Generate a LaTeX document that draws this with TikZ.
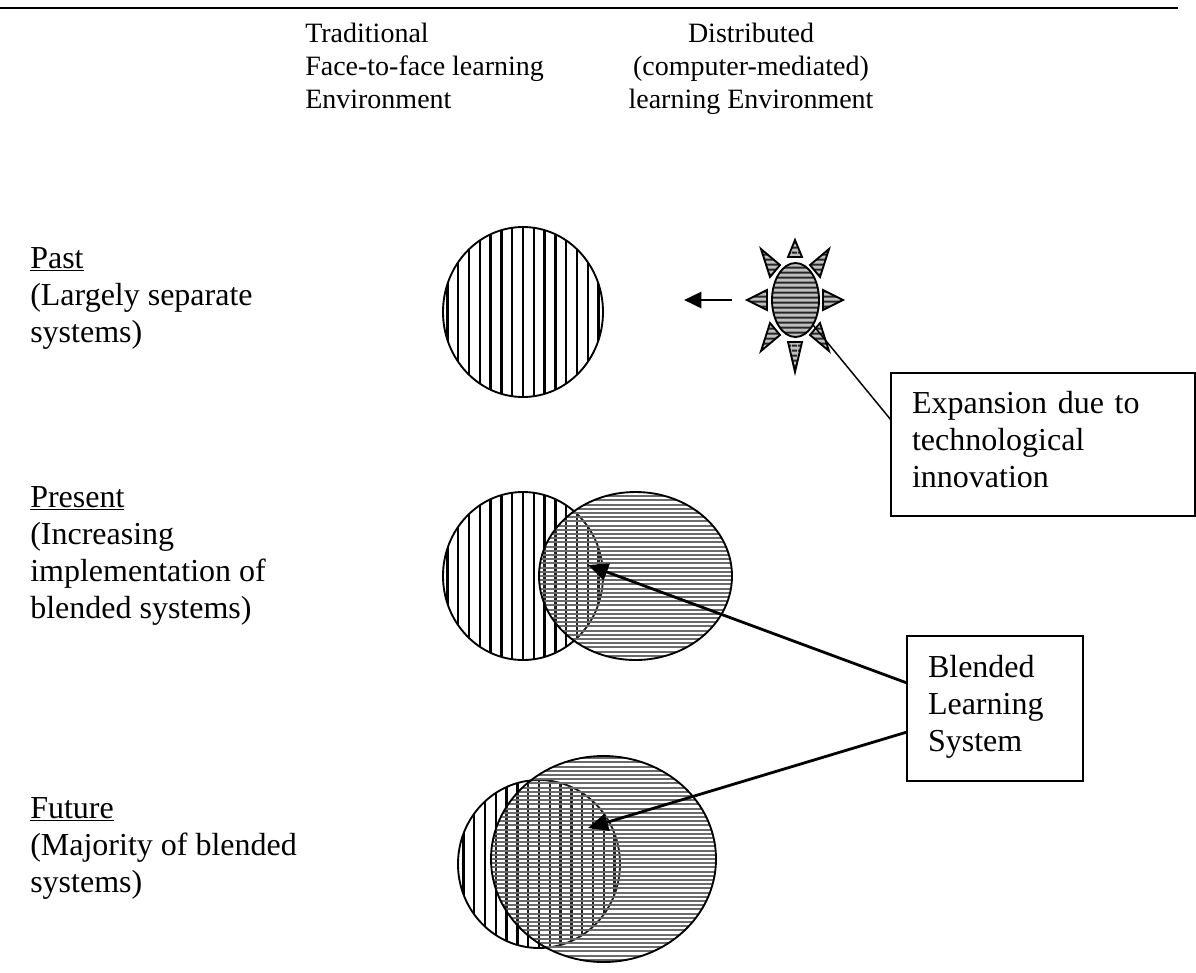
\documentclass[tikz,border=0pt]{standalone}
\usepackage{fontspec}
\setmainfont{Liberation Serif}
\usetikzlibrary{arrows.meta,patterns.meta,calc}
\newcommand\mylines[1]{\begin{tabular}[t]{@{}l@{}}#1\end{tabular}}
\newcommand\mylinesc[1]{\begin{tabular}[t]{@{}c@{}}#1\end{tabular}}
\begin{document}
\begin{tikzpicture}[x=0.75pt,y=-0.75pt,
  body/.style={font=\fontsize{24}{27.75}\selectfont, inner sep=0pt, anchor=base west},
  head/.style={font=\fontsize{21}{25.1}\selectfont, inner sep=0pt},
  labelbox/.style={draw, line width=1.4pt, outer sep=0pt, inner ysep=0pt, inner xsep=15.75pt,
    anchor=north west, align=left, font=\fontsize{24}{27.75}\selectfont},
  vline/.style={line width=1.7pt, black},
  hline/.style={line width=1.5pt, black!58},
  sunstripes/.style={preaction={fill=black!25}, pattern={Lines[angle=0,distance=4pt,line width=1.6pt]}, pattern color=black!85},
  outline/.style={draw, line width=1.4pt},
  sunpart/.style={sunstripes, draw, line width=1.4pt, line join=miter},
  arr/.style={line width=2.1pt, -{Triangle[length=15pt,width=13pt]}},
  thinline/.style={line width=1.1pt}
]
\useasboundingbox (0,0) rectangle (1196,972);

% top rule
\draw[line width=2pt] (0,8) -- (1178,8);

% column headers
\node[head, anchor=base west] (trad) at (305,42) {\mylines{Traditional\\Face-to-face learning\\Environment}};
\node[head, anchor=base] (dist) at (751,42) {\mylinesc{Distributed\\(computer-mediated)\\learning Environment}};

% row labels
\node[body] (past) at (30,268) {\mylines{\underline{Past}\\(Largely separate\\systems)}};
\node[body] (present) at (30,507) {\mylines{\underline{Present}\\(Increasing\\implementation of\\blended systems)}};
\node[body] (future) at (30,818) {\mylines{\underline{Future}\\(Majority of blended\\systems)}};

% ---- Past: traditional circle
\begin{scope}
  \clip (523,312) ellipse [x radius=80, y radius=85];
  \foreach \i in {-8,...,8} \draw[vline] (523+\i*10.8,220) -- (523+\i*10.8,400);
\end{scope}
\draw[outline] (523,312) ellipse [x radius=80, y radius=85];

% ---- Past: distributed "sun"
\path[sunpart] (795.5,300) ellipse [x radius=23.5, y radius=37];
\path[sunpart] (795,240) -- (802,257) -- (788,257) -- cycle;
\path[sunpart] (795,372) -- (802,342) -- (788,342) -- cycle;
\path[sunpart] (747,300) -- (767,290) -- (767,310) -- cycle;
\path[sunpart] (843,300) -- (823,290) -- (823,310) -- cycle;
\path[sunpart] (761,249) -- (780,265) -- (770,277) -- cycle;
\path[sunpart] (829,249) -- (810,265) -- (820,277) -- cycle;
\path[sunpart] (761,351) -- (780,335) -- (770,323) -- cycle;
\path[sunpart] (829,351) -- (810,335) -- (820,323) -- cycle;

\coordinate (expStart) at (732,300);
\coordinate (expEnd) at (684,300);
\draw[line width=2pt, -{Triangle[length=13pt,width=12pt]}] (expStart) -- (expEnd);

% ---- Present
\begin{scope}
  \clip (523,576) ellipse [x radius=80, y radius=84];
  \foreach \i in {-8,...,8} \draw[vline] (523+\i*10.8,488) -- (523+\i*10.8,664);
\end{scope}
\draw[outline] (523,576) ellipse [x radius=80, y radius=84];
\fill[white, opacity=0.12] (635.5,576) ellipse [x radius=96.5, y radius=84];
\begin{scope}
  \clip (635.5,576) ellipse [x radius=96.5, y radius=84];
  \foreach \j in {-21,...,21} \draw[hline] (535,576+\j*4.2) -- (736,576+\j*4.2);
\end{scope}
\draw[outline] (635.5,576) ellipse [x radius=96.5, y radius=84];

% ---- Future
\begin{scope}
  \clip (539,864) ellipse [x radius=81, y radius=84];
  \foreach \i in {-8,...,8} \draw[vline] (539+\i*10.8,776) -- (539+\i*10.8,952);
\end{scope}
\draw[outline] (539,864) ellipse [x radius=81, y radius=84];
\fill[white, opacity=0.12] (603.5,859) ellipse [x radius=112.5, y radius=103];
\begin{scope}
  \clip (603.5,859) ellipse [x radius=112.5, y radius=103];
  \foreach \j in {-25,...,25} \draw[hline] (488,859+\j*4.2) -- (720,859+\j*4.2);
\end{scope}
\draw[outline] (603.5,859) ellipse [x radius=112.5, y radius=103];

% ---- callout boxes
\node[labelbox, text width=196.5pt, text height=30pt, text depth=77.25pt] (exp) at (891,373)
  {Expansion due to\\technological\\innovation};
\node[labelbox, text width=100.5pt, text height=30.75pt, text depth=78pt] (blend) at (907,636)
  {Blended\\Learning\\System};

% ---- connectors
\coordinate (sunRay) at (813,325);
\draw[thinline] (sunRay) -- ($(exp.north west)+(0,47)$);

\coordinate (pTip) at (588,565);
\coordinate (fTip) at (588,828);
\draw[arr] ($(blend.north west)+(0,47)$) -- (pTip);
\draw[arr] ($(blend.north west)+(0,96)$) -- (fTip);
\end{tikzpicture}
\end{document}
